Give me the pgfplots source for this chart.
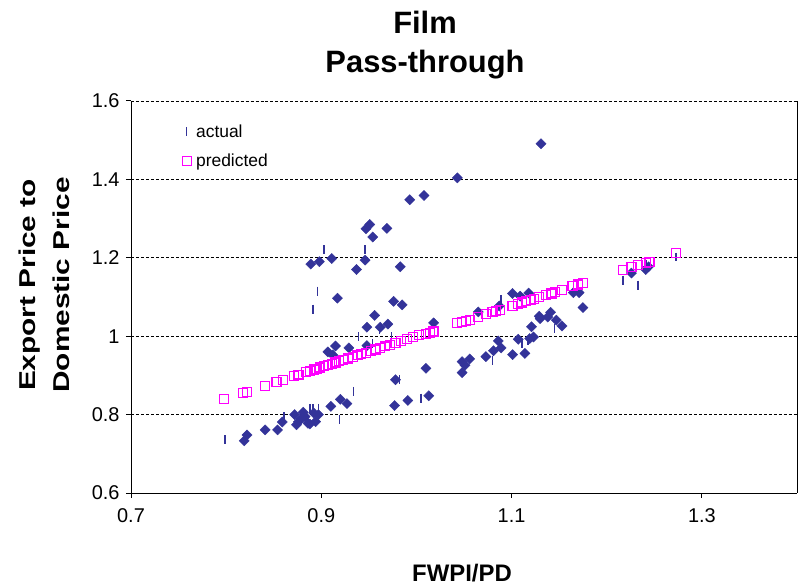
\documentclass[border=0pt]{standalone}
\usepackage{fontspec}
\setmainfont{Liberation Sans}
\usepackage{pgfplots}
\pgfplotsset{compat=1.18}
\definecolor{xlblue}{RGB}{51,51,153}
\definecolor{xlmag}{RGB}{255,0,255}

% diamonds (unlabelled points)
\pgfplotstableread{
x y
1.131 1.491
1.043 1.404
1.008 1.359
0.993 1.348
0.947 1.274
0.951 1.285
0.954 1.253
0.969 1.275
0.889 1.184
0.898 1.190
0.911 1.198
0.937 1.170
0.946 1.194
0.983 1.177
0.917 1.097
0.976 1.089
0.985 1.080
0.956 1.053
0.948 1.023
0.962 1.023
0.970 1.031
0.907 0.960
0.915 0.975
0.929 0.970
0.948 0.976
0.912 0.952
0.978 0.889
0.977 0.823
0.991 0.836
0.920 0.839
0.927 0.828
0.910 0.821
0.872 0.800
0.876 0.782
0.874 0.774
0.879 0.790
0.881 0.806
0.883 0.795
0.886 0.778
0.888 0.776
0.892 0.804
0.894 0.782
0.897 0.800
0.859 0.781
0.841 0.761
0.854 0.761
0.819 0.733
0.822 0.748
1.018 1.034
1.010 0.918
1.013 0.848
1.048 0.935
1.051 0.926
1.056 0.942
1.048 0.907
1.073 0.948
1.081 0.963
1.086 0.988
1.089 0.970
1.101 0.953
1.107 0.992
1.114 0.956
1.119 0.994
1.123 0.998
1.121 1.024
1.129 1.051
1.130 1.045
1.138 1.049
1.141 1.061
1.147 1.041
1.153 1.026
1.101 1.109
1.109 1.102
1.118 1.110
1.065 1.062
1.087 1.077
1.165 1.111
1.171 1.111
1.175 1.073
1.226 1.161
1.241 1.170
1.244 1.177
}\diamonds

\pgfplotstableread{
x y
0.799 0.736
0.861 0.795
0.888 0.816
0.891 0.816
0.897 0.816
0.891 1.069
0.896 1.115
0.903 1.221
0.946 1.221
0.919 0.788
0.934 0.859
0.939 0.998
0.954 0.982
0.961 1.016
0.974 0.998
0.982 0.890
1.005 0.842
1.080 0.939
1.111 0.982
1.117 0.990
1.145 1.020
1.089 1.094
1.217 1.143
1.233 1.130
1.241 1.183
1.273 1.202
}\actual

\pgfplotstableread{
x y
0.798 0.839
0.818 0.856
0.822 0.858
0.841 0.873
0.853 0.884
0.860 0.889
0.871 0.898
0.876 0.902
0.884 0.908
0.888 0.912
0.892 0.915
0.895 0.917
0.899 0.920
0.903 0.923
0.907 0.927
0.911 0.930
0.915 0.933
0.919 0.936
0.923 0.939
0.928 0.943
0.933 0.947
0.938 0.951
0.942 0.954
0.947 0.958
0.952 0.962
0.957 0.966
0.962 0.970
0.967 0.974
0.972 0.978
0.978 0.983
0.984 0.988
0.990 0.993
0.996 0.997
1.003 1.003
1.010 1.005
1.014 1.009
1.018 1.012
1.043 1.033
1.048 1.037
1.052 1.039
1.056 1.042
1.065 1.049
1.073 1.056
1.080 1.062
1.084 1.065
1.088 1.067
1.101 1.077
1.107 1.082
1.111 1.086
1.115 1.089
1.120 1.092
1.124 1.095
1.129 1.100
1.136 1.106
1.142 1.109
1.146 1.112
1.153 1.118
1.164 1.128
1.170 1.132
1.175 1.135
1.217 1.168
1.226 1.177
1.233 1.182
1.241 1.187
1.245 1.189
1.273 1.212
}\predicted

\begin{document}
\begin{tikzpicture}[x=1bp,y=1bp]
\useasboundingbox (-131,-94) rectangle (669,493);
\begin{axis}[
  at={(0,0)}, anchor=south west,
  scale only axis, width=666bp, height=392bp,
  xmin=0.7, xmax=1.4, ymin=0.6, ymax=1.6,
  xtick={0.7,0.9,1.1,1.3},
  xticklabels={0.7,0.9,1.1,1.3},
  ytick={0.6,0.8,1,1.2,1.4,1.6},
  yticklabels={0.6,0.8,1,1.2,1.4,1.6},
  axis x line*=bottom, axis y line*=box,
  ytick pos=left, xtick pos=bottom,
  tick align=outside, major tick length=5bp,
  ymajorgrids, grid style={black, densely dashed, line width=0.6pt},
  axis line style={black, line width=1pt},
  tick style={black, line width=1pt},
  tick label style={font=\fontsize{20}{22}\selectfont},
  /pgf/number format/assume math mode=true,
  xticklabel style={yshift=-7bp},
  yticklabel style={xshift=-3bp},
  clip=false,
  legend style={at={(rel axis cs:0.072,0.95)}, anchor=north west,
    draw=none, fill=none, font=\fontsize{17.5}{19}\selectfont,
    row sep=11bp, column sep=3bp, legend cell align=left},
]
\addplot[only marks, mark=square*, mark size=3.6, color=xlblue,
  mark options={rotate=45}, forget plot] table {\diamonds};
\addplot[only marks, mark=|, mark size=4.5, color=xlblue,
  line width=1.6pt] table {\actual};
\addlegendentry{actual}
\addplot[only marks, mark=square, mark size=4.5, color=xlmag,
  line width=1.2pt] table {\predicted};
\addlegendentry{predicted}
\end{axis}
\node[font=\bfseries\fontsize{31}{33}\selectfont] at (294,471) {Film};
\node[font=\bfseries\fontsize{31}{33}\selectfont] at (294,428) {Pass-through};
\node[font=\bfseries\fontsize{24}{26}\selectfont] at (331,-80) {FWPI/PD};
\node[font=\bfseries\fontsize{23}{25}\selectfont, rotate=90] at (-101,208) {\scalebox{1.3}[1]{Export Price to}};
\node[font=\bfseries\fontsize{23}{25}\selectfont, rotate=90] at (-70,208) {\scalebox{1.3}[1]{Domestic Price}};
\end{tikzpicture}
\end{document}
